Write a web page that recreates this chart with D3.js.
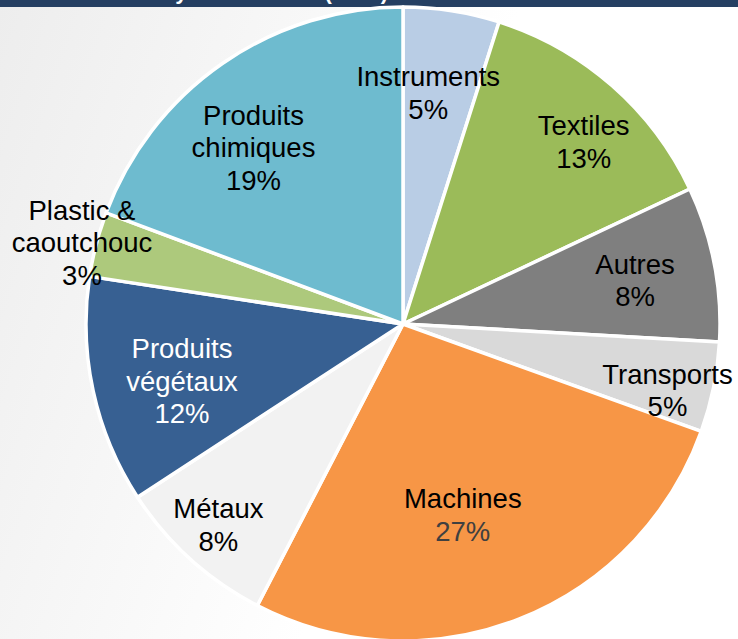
<!DOCTYPE html>
<html>
<head>
<meta charset="utf-8">
<script src="https://cdn.jsdelivr.net/npm/d3@7"></script>
<style>
  body { margin: 0; background: #fff; }
  svg { display: block; font-family: 'Liberation Sans', Arial, sans-serif; }
</style>
</head>
<body>
<svg id="chart"></svg>
<script>
// sectors, clockwise from 12 o'clock
const sectors = ['Instruments', 'Textiles', 'Autres', 'Transports', 'Machines',
  'Métaux', 'Produits végétaux', 'Plastic & caoutchouc', 'Produits chimiques'];
const shares = [4.9, 13.1, 7.9, 4.6, 27.1, 8.2, 11.6, 3.3, 19.3];
const labelLines = [['Instruments'], ['Textiles'], ['Autres'], ['Transports'], ['Machines'],
  ['Métaux'], ['Produits', 'végétaux'], ['Plastic &', 'caoutchouc'], ['Produits', 'chimiques']];
const pctLabels = ['5%', '13%', '8%', '5%', '27%', '8%', '12%', '3%', '19%'];
const title = 'Total Trade by Main Sector (2019)';

const colors = ['#B9CDE5', '#9BBB59', '#7F7F7F', '#D9D9D9', '#F79646',
  '#F2F2F2', '#376092', '#ADC97C', '#6EBBCF'];
const textColors = ['#000', '#000', '#000', '#000', '#000', '#000', '#fff', '#000', '#000'];
const pctColors = ['#000', '#000', '#000', '#000', '#404040', '#000', '#fff', '#000', '#000'];
// label placement: radius as fraction of pie radius, angular nudge in degrees
const labelR = [0.735, 0.81, 0.745, 0.86, 0.63, 0.86, 0.72, 1.045, 0.73];
const labelNudge = [-2.6, 3.5, 0.3, 2.5, 4, 0.5, -2.2, -0.3, -5.5];

const width = 738;
const height = 639;
const cx = 403;
const cy = 324;
const radius = 317;
const fontSize = 27.5;
const lineH = 32.5;

const svg = d3.select('#chart').
  attr('width', width).
  attr('height', height);

const defs = svg.append('defs');
const grad = defs.append('linearGradient').
  attr('id', 'bg').
  attr('x1', 0).attr('y1', 0).attr('x2', 1).attr('y2', 0.3);
grad.append('stop').attr('offset', 0).attr('stop-color', '#EDEDED');
grad.append('stop').attr('offset', 0.65).attr('stop-color', '#FFFFFF');

svg.append('rect').
  attr('width', width).
  attr('height', height).
  attr('fill', 'url(#bg)');

// header bar, the title sits above the frame and only its descenders show
svg.append('rect').
  attr('width', width).
  attr('height', 7).
  attr('fill', '#253F62');
svg.append('text').
  attr('x', 388).
  attr('y', -1).
  attr('text-anchor', 'end').
  attr('font-size', 22).
  attr('font-weight', 'bold').
  attr('fill', '#fff').
  text(title);

const pie = d3.pie().
  sort(null).
  value(d => d)(shares);

const arc = d3.arc().
  innerRadius(0).
  outerRadius(radius);

const g = svg.append('g').
  attr('transform', `translate(${cx}, ${cy})`);

g.selectAll('path').
  data(pie).
  enter().append('path').
  attr('d', arc).
  attr('fill', (d, i) => colors[i]).
  attr('stroke', '#fff').
  attr('stroke-width', 3.5).
  attr('stroke-linejoin', 'round');

const labels = g.selectAll('.label').
  data(pie).
  enter().append('text').
  attr('class', 'label').
  attr('text-anchor', 'middle').
  attr('font-size', fontSize).
  attr('transform', (d, i) => {
    const a = (d.startAngle + d.endAngle) / 2 + labelNudge[i] * Math.PI / 180;
    const r = radius * labelR[i];
    return `translate(${r * Math.sin(a)}, ${-r * Math.cos(a)})`;
  });

labels.each(function (d, i) {
  const lines = labelLines[i].concat([pctLabels[i]]);
  const top = -(lines.length - 1) * lineH / 2;
  const t = d3.select(this);
  lines.forEach((line, j) => {
    t.append('tspan').
      attr('x', 0).
      attr('y', top + j * lineH + fontSize * 0.36).
      attr('fill', j === lines.length - 1 ? pctColors[i] : textColors[i]).
      text(line);
  });
});
</script>
</body>
</html>
